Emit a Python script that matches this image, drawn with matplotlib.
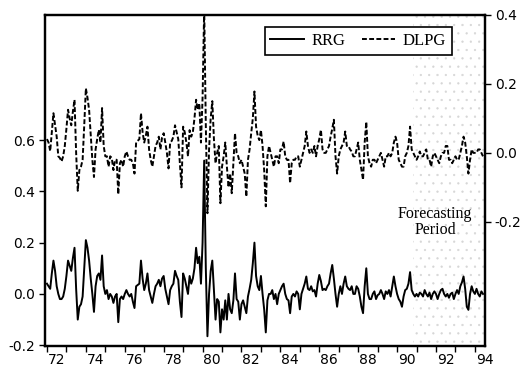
import numpy as np
import matplotlib
matplotlib.use("Agg")
import matplotlib.pyplot as plt

# -----------------------------
# Data (monthly, from 1972:01)
# -----------------------------
start_year = 1972
rrg = [
    0.04, 0.03, 0.02, 0.08, 0.13, 0.09, 0.03, 0.0, -0.02, -0.02, -0.01, 0.02,
    0.07, 0.13, 0.11, 0.09, 0.14, 0.18, 0.02, -0.10, -0.05, -0.04, -0.01, 0.10,
    0.21, 0.18, 0.13, 0.06, 0.0, -0.07, 0.03, 0.07, 0.08, 0.055, 0.15, 0.03,
    0.0, 0.015, -0.02, 0.0, -0.01, -0.035, -0.01, 0.0, -0.11, -0.02, -0.01, -0.02,
    0.0, 0.015, 0.0, -0.01, 0.0, -0.03, -0.055, 0.03, 0.035, 0.04, 0.13, 0.06,
    0.015, 0.04, 0.08, 0.015, -0.01, -0.035, 0.0, 0.03, 0.04, 0.055, 0.03, 0.06,
    0.07, 0.02, -0.01, -0.04, 0.015, 0.03, 0.04, 0.09, 0.07, 0.055, -0.03, -0.09,
    0.08, 0.06, 0.03, 0.0, 0.07, 0.04, 0.06, 0.10, 0.18, 0.12, 0.145, 0.04,
    0.20, 0.52, 0.10, -0.165, 0.0, 0.09, 0.13, 0.015, -0.10, -0.02, -0.03, -0.15,
    -0.06, -0.10, -0.025, -0.10, 0.0, -0.06, -0.075, -0.025, 0.08, -0.02, -0.03, -0.10,
    -0.04, -0.025, -0.05, -0.075, -0.01, 0.02, 0.055, 0.12, 0.20, 0.07, 0.03, 0.015,
    0.07, 0.0, -0.06, -0.15, -0.025, 0.0, 0.0, 0.015, -0.02, 0.0, -0.04, 0.0,
    0.015, 0.03, 0.04, 0.0, -0.02, -0.025, -0.075, -0.01, 0.0, -0.01, 0.01, 0.0,
    -0.06, 0.0, 0.02, 0.04, 0.068, 0.02, 0.015, 0.03, 0.01, 0.015, -0.01, 0.04,
    0.074, 0.05, 0.015, 0.02, 0.015, 0.03, 0.04, 0.08, 0.113, 0.06, 0.0, -0.05,
    0.0, 0.03, 0.0, 0.04, 0.068, 0.03, 0.02, 0.015, 0.03, 0.0, 0.0, 0.03,
    0.02, -0.01, -0.05, -0.075, 0.03, 0.10, 0.0, -0.02, -0.02, 0.0, 0.01, -0.02,
    -0.005, 0.0, 0.015, 0.0, -0.02, 0.01, 0.0, 0.015, -0.01, 0.03, 0.068, 0.03,
    0.0, -0.02, -0.03, -0.05, -0.01, 0.015, 0.02, 0.04, 0.085, 0.015, 0.0, -0.01,
    0.0, -0.01, 0.005, 0.0, -0.01, 0.015, 0.0, -0.01, 0.005, -0.02, 0.0, 0.01,
    0.0, -0.02, 0.0, 0.015, 0.02, 0.0, -0.01, 0.0, -0.015, 0.0, 0.005, -0.02,
    0.0, 0.015, 0.0, 0.03, 0.045, 0.068, 0.02, -0.05, -0.062, 0.0, 0.03, 0.01,
    0.0, 0.02, 0.0, -0.01, 0.01, 0.0,
]
dlpg = [
    0.04, 0.03, 0.005, 0.06, 0.115, 0.08, 0.047, -0.01, -0.015, -0.025, -0.01, 0.02,
    0.07, 0.125, 0.10, 0.08, 0.12, 0.154, 0.0, -0.11, -0.05, -0.04, -0.02, 0.08,
    0.187, 0.16, 0.125, 0.05, -0.02, -0.07, 0.01, 0.04, 0.067, 0.03, 0.13, 0.02,
    -0.01, -0.01, -0.04, -0.01, -0.015, -0.05, -0.02, -0.02, -0.12, -0.03, -0.02, -0.04,
    -0.01, 0.004, -0.01, -0.02, -0.02, -0.03, -0.06, 0.03, 0.035, 0.04, 0.115, 0.06,
    0.03, 0.05, 0.076, 0.01, -0.02, -0.04, -0.01, 0.02, 0.03, 0.047, 0.01, 0.045,
    0.057, 0.03, 0.0, -0.045, 0.03, 0.035, 0.047, 0.08, 0.06, 0.04, -0.03, -0.10,
    0.076, 0.06, 0.03, -0.01, 0.066, 0.047, 0.06, 0.10, 0.154, 0.125, 0.144, 0.03,
    0.16, 0.42, 0.08, -0.175, 0.01, 0.10, 0.15, 0.04, -0.03, 0.0, 0.02, -0.146,
    -0.04, -0.01, 0.03, -0.04, -0.10, -0.06, -0.117, -0.03, 0.057, 0.0, -0.01, -0.03,
    -0.02, -0.04, -0.06, -0.127, -0.02, 0.01, 0.057, 0.10, 0.178, 0.076, 0.05, 0.037,
    0.066, 0.02, -0.05, -0.155, -0.01, 0.02, 0.0, -0.02, -0.04, -0.01, -0.01, -0.03,
    0.01, 0.01, 0.033, -0.01, -0.02, -0.02, -0.088, -0.03, -0.02, -0.02, -0.01, -0.01,
    -0.04, -0.02, 0.0, 0.02, 0.062, 0.02, 0.0, 0.01, 0.0, 0.02, -0.01, 0.02,
    0.04, 0.067, 0.01, 0.0, 0.0, 0.01, 0.02, 0.047, 0.07, 0.096, -0.01, -0.06,
    -0.01, 0.01, 0.02, 0.03, 0.062, 0.02, 0.02, 0.01, 0.004, -0.01, -0.01, 0.01,
    0.03, -0.02, -0.05, -0.078, 0.03, 0.09, -0.01, -0.03, -0.04, -0.02, -0.02, -0.03,
    -0.02, -0.01, 0.0, -0.02, -0.04, -0.01, -0.01, 0.0, -0.01, 0.0, 0.03, 0.047,
    0.03, -0.02, -0.03, -0.04, -0.04, -0.01, 0.0, 0.02, 0.076, 0.01, 0.0, -0.01,
    -0.02, -0.01, 0.004, -0.01, -0.01, 0.0, 0.01, -0.02, -0.02, -0.04, -0.01, 0.0,
    -0.01, -0.02, -0.03, -0.01, 0.0, 0.0, 0.02, 0.02, -0.02, -0.02, -0.03, -0.02,
    -0.01, -0.02, -0.02, 0.0, 0.02, 0.047, 0.03, -0.01, -0.06, -0.02, 0.01, 0.0,
    0.0, 0.0, 0.01, 0.01, 0.0, -0.01,
]
year_labels = ["72", "74", "76", "78", "80", "82", "84", "86", "88", "90", "92", "94"]
left_ticks = [-0.2, 0.0, 0.2, 0.4, 0.6]
right_ticks = [-0.2, 0.0, 0.2, 0.4]
forecast_start = 1990.8

t = start_year + np.arange(len(rrg)) / 12.0

# -----------------------------
# Plot
# -----------------------------
plt.rcParams["font.family"] = "DejaVu Sans"
plt.rcParams["hatch.linewidth"] = 0.4

fig = plt.figure(figsize=(5.24, 3.76), dpi=100)
ax = fig.add_axes([0.0859, 0.0798, 0.8397, 0.8805])
ax2 = ax.twinx()

x_end = 1994.52
# Forecasting period: light stipple
ax.axvspan(forecast_start, x_end, facecolor="none", edgecolor="#d6d6d6",
           hatch="..", linewidth=0, zorder=0)

l1, = ax.plot(t, rrg, color="black", lw=1.4, label="RRG")
l2, = ax2.plot(t, dlpg, color="black", lw=1.4, dashes=(2.5, 1.2), label="DLPG")

ax.set_xlim(1971.9, x_end)
ax.set_ylim(-0.203, 1.088)
ax2.set_ylim(-0.56, 0.40)

# year ticks at year starts, labels mid-year
ax.set_xticks(np.arange(1972, 1995))
ax.set_xticklabels([])
ax.set_xticks([1972.5 + 2 * i for i in range(len(year_labels))], minor=True)
ax.set_xticklabels(year_labels, minor=True)
ax.tick_params(axis="x", which="major", direction="out", length=4, width=1)
ax.tick_params(axis="x", which="minor", length=0, pad=5, labelsize=10)

ax.set_yticks(left_ticks)
ax.set_yticklabels([f"{v:.1f}" for v in left_ticks])
ax.tick_params(axis="y", direction="out", length=4, width=1, labelsize=10, pad=3)

ax2.set_yticks(right_ticks)
ax2.set_yticklabels([f"{v:.1f}" for v in right_ticks])
ax2.tick_params(axis="y", direction="out", length=4, width=1, labelsize=10, pad=3)

for a in (ax, ax2):
    for s in a.spines.values():
        s.set_linewidth(1.6)

ax2.text(1991.95, -0.2, "Forecasting\nPeriod", ha="center", va="center",
         fontsize=11.5, family="Liberation Serif", linespacing=1.05)

leg = ax2.legend([l1, l2], ["RRG", "DLPG"], loc="upper right",
                 bbox_to_anchor=(0.925, 0.964), borderaxespad=0, ncol=2,
                 frameon=True, fancybox=False, framealpha=1, edgecolor="black",
                 prop={"family": "Liberation Serif", "size": 12},
                 handlelength=2.0, handletextpad=0.45, columnspacing=1.0,
                 borderpad=0.35)
leg.get_frame().set_linewidth(1.2)

fig.savefig("out.png", dpi=100)
